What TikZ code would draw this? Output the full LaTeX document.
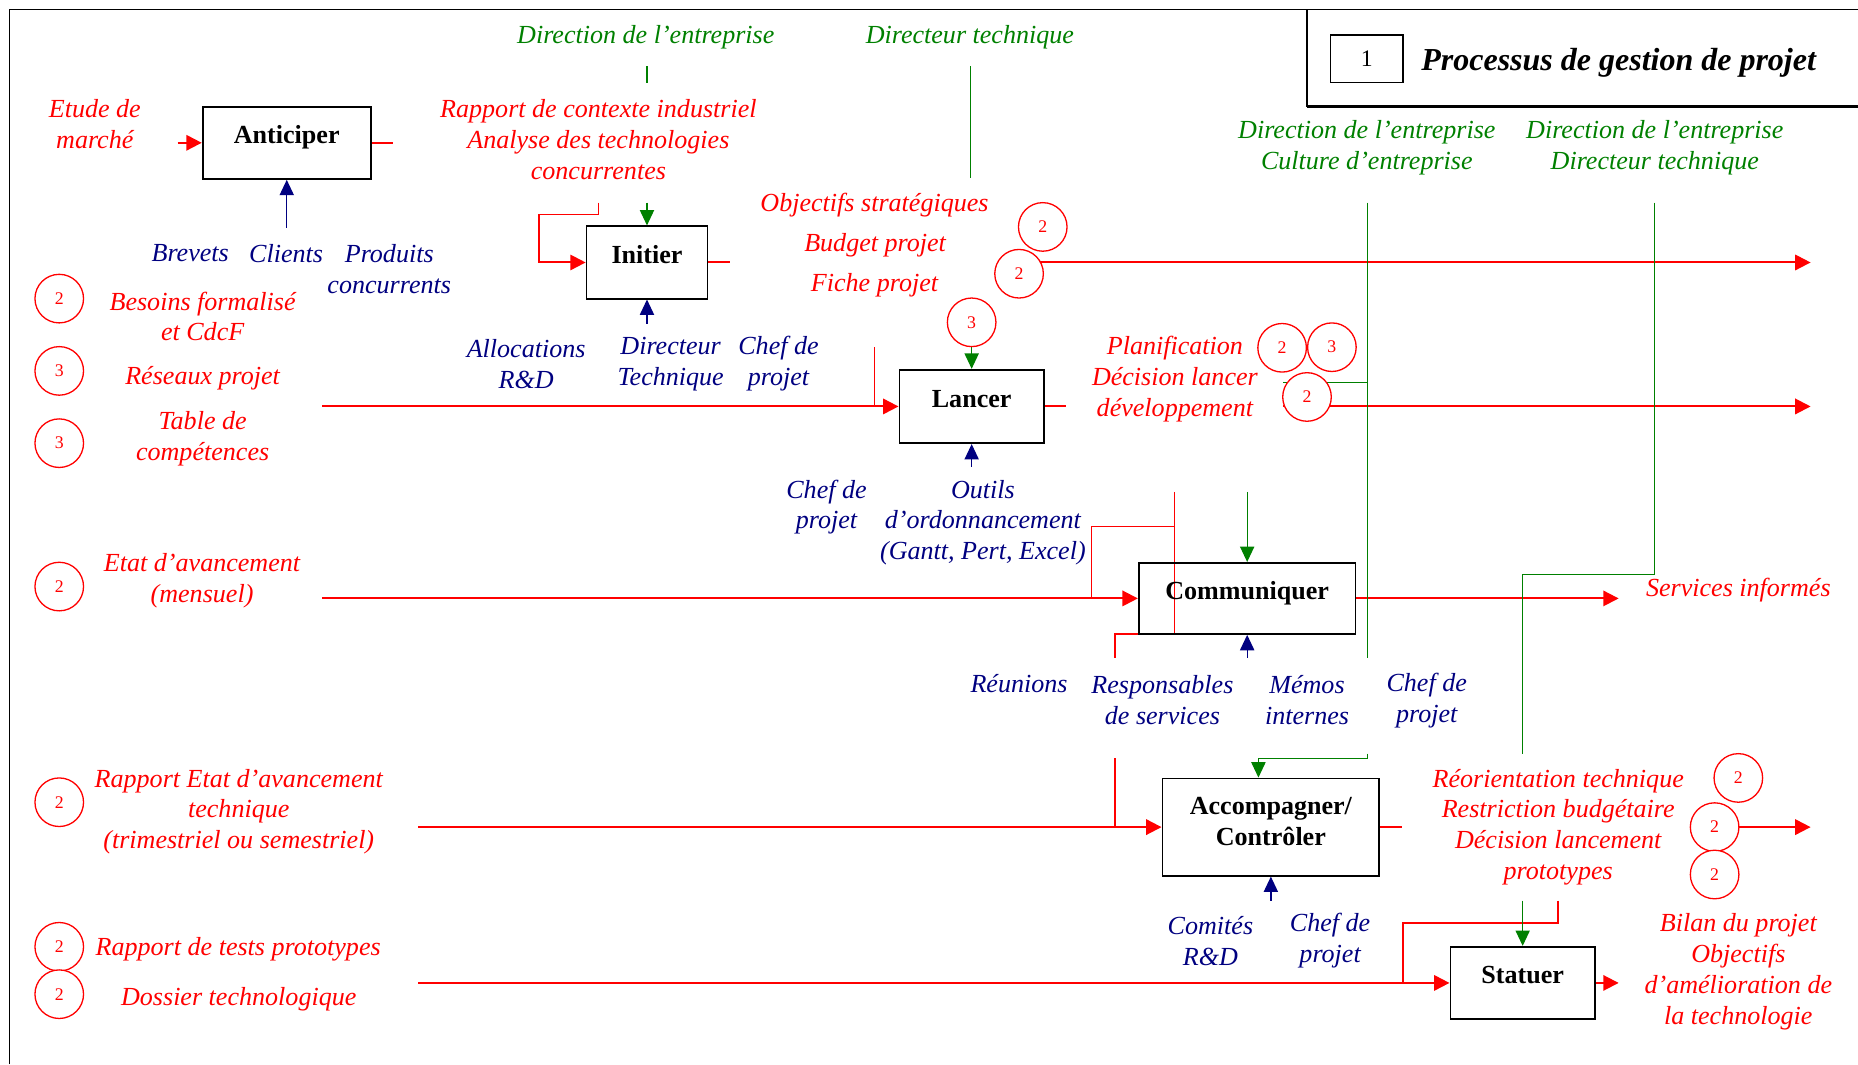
\documentclass[tikz,border=0pt]{standalone}
\usepackage{fontspec}
\setmainfont{Liberation Serif}
\usetikzlibrary{arrows.meta,backgrounds}
\definecolor{flowred}{RGB}{255,0,0}
\definecolor{ctrlgreen}{RGB}{0,128,0}
\definecolor{mechblue}{RGB}{0,0,128}

\begin{document}
\begin{tikzpicture}[x=1pt,y=-1pt,
        every node/.style={inner sep=0pt},
        lbl/.style={font=\fontsize{22}{26}\selectfont\itshape, align=center},
        outtxt/.style={lbl, text=flowred},
        ctltxt/.style={lbl, text=ctrlgreen},
        mectxt/.style={lbl, text=mechblue},
        actbox/.style={draw, line width=1.5pt, font=\fontsize{22}{26}\selectfont\bfseries},
        activity/.style={actbox, text height=16pt, text depth=15pt},
        refnum/.style={circle, draw=flowred, line width=1.1pt, fill=white, minimum size=41pt, text=flowred, font=\fontsize{15}{15}\selectfont},
        flow/.style={draw=flowred, line width=1.7pt},
        flowthin/.style={draw=flowred, line width=1.3pt},
        flowarrow/.style={flow, -{Triangle[length=13pt,width=13pt]}},
        ctrlline/.style={draw=ctrlgreen, line width=1.1pt},
        ctrlarrow/.style={ctrlline, -{Triangle[length=13pt,width=12pt]}},
        mecharrow/.style={draw=mechblue, line width=1.1pt, -{Triangle[length=13pt,width=12pt]}}]

    \useasboundingbox (0,0) rectangle (1568,898);
    \draw[line width=1.2pt] (8,898) -- (8,8) -- (1568,8);
    \draw[line width=1pt] (1103,8) -- (1103,90);
    \draw[line width=2pt] (1103,90) -- (1568,90);

    \node[draw, line width=1.2pt, minimum width=61pt, minimum height=40pt, font=\fontsize{20}{24}\selectfont] (numbox) at (1153.5,49.5) {1};
    \node[font=\fontsize{27}{32}\selectfont\bfseries\itshape] (titre) at (1366,53) {Processus de gestion de projet};

    \node[activity, minimum width=142pt, minimum height=61pt] (anticiper) at (242,120.5) {Anticiper};
    \node[activity, minimum width=102pt, minimum height=61pt] (initier) at (546,221.5) {Initier};
    \node[activity, minimum width=122pt, minimum height=62pt] (lancer) at (820,343) {Lancer};
    \node[activity, minimum width=183pt, minimum height=60pt] (communiquer) at (1052.5,505) {Communiquer};
    \node[actbox, align=center, minimum width=183pt, minimum height=82pt] (accompagner) at (1072.5,698) {Accompagner/\\Contrôler\rule[-10pt]{0pt}{10pt}};
    \node[activity, minimum width=122pt, minimum height=61pt] (statuer) at (1285,829.5) {Statuer};

    \node[ctltxt] (direntr1) at (545,31) {Direction de l’entreprise};
    \node[ctltxt] (dirtech1) at (818.5,31) {Directeur technique};
    \node[ctltxt] (direntr2) at (1153.5,125) {Direction de l’entreprise\\Culture d’entreprise};
    \node[ctltxt] (direntr3) at (1396.5,125) {Direction de l’entreprise\\Directeur technique};

    \node[outtxt] (etude) at (80,105) {Etude de\\marché};
    \node[outtxt] (rapport) at (505,118) {Rapport de contexte industriel\\Analyse des technologies\\concurrentes};
    \node[outtxt] (objectifs) at (738,173) {Objectifs stratégiques};
    \node[outtxt] (budget) at (738.5,207) {Budget projet};
    \node[outtxt] (fiche) at (738,241) {Fiche projet};
    \node[outtxt] (planif) at (991.5,320) {Planification\\Décision lancer\\développement};
    \node[outtxt] (besoins) at (171,267) {Besoins formalisé\\et CdcF};
    \node[outtxt] (reseaux) at (171,319) {Réseaux projet};
    \node[outtxt] (table) at (171,370) {Table de\\compétences};
    \node[outtxt] (etat) at (170.5,490) {Etat d’avancement\\(mensuel)};
    \node[outtxt] (rapportetat) at (201.5,685) {Rapport Etat d’avancement\\technique\\(trimestriel ou semestriel)};
    \node[outtxt] (tests) at (201,801) {Rapport de tests prototypes};
    \node[outtxt] (dossier) at (201.5,843) {Dossier technologique};
    \node[outtxt] (services) at (1467,498) {Services informés};
    \node[outtxt] (reorient) at (1315,698) {Réorientation technique\\Restriction budgétaire\\Décision lancement\\prototypes};
    \node[outtxt] (bilan) at (1467,820) {Bilan du projet\\Objectifs\\d’amélioration de\\la technologie};

    \node[mectxt] (brevets) at (160.5,214) {Brevets};
    \node[mectxt] (clients) at (241.5,214) {Clients};
    \node[mectxt] (produits) at (328.5,227) {Produits\\concurrents};
    \node[mectxt] (alloc) at (444,307) {Allocations\\R\&D};
    \node[mectxt] (dirtech2) at (566,307) {Directeur\\Technique};
    \node[mectxt] (chef1) at (657,307) {Chef de\\projet};
    \node[mectxt] (chef2) at (697.5,428) {Chef de\\projet};
    \node[mectxt] (outils) at (829.5,441) {Outils\\d’ordonnancement\\(Gantt, Pert, Excel)};
    \node[mectxt] (reunions) at (860,577) {Réunions};
    \node[mectxt] (resp) at (981,591) {Responsables\\de services};
    \node[mectxt] (memos) at (1103,591) {Mémos\\internes};
    \node[mectxt] (chef3) at (1204,591) {Chef de\\projet};
    \node[mectxt] (comites) at (1021.5,794) {Comités\\R\&D};
    \node[mectxt] (chef4) at (1122.5,794) {Chef de\\projet};

    \node[refnum] (r1) at (50,252) {2};
    \node[refnum] (r2) at (50,313) {3};
    \node[refnum] (r3) at (50,374) {3};
    \node[refnum] (r4) at (50,495) {2};
    \node[refnum] (r5) at (50,677) {2};
    \node[refnum] (r6) at (50,799) {2};
    \node[refnum] (r7) at (50,839) {2};
    \node[refnum] (r8) at (880,191.5) {2};
    \node[refnum] (r9) at (860,231) {2};
    \node[refnum] (r10) at (820,272) {3};
    \node[refnum] (r11) at (1082,293.5) {2};
    \node[refnum] (r12) at (1124,293) {3};
    \node[refnum] (r13) at (1103,335) {2};
    \node[refnum] (r14) at (1467,656.5) {2};
    \node[refnum] (r15) at (1447,698) {2};
    \node[refnum] (r16) at (1447,738) {2};

    \coordinate (etude-in) at (150,120.5);
    \coordinate (anticiper-out) at (332,120.5);
    \coordinate (rapport-stub) at (505,171);
    \coordinate (rapport-bend) at (455,181);
    \coordinate (initier-out) at (616,221.5);
    \coordinate (fiche-out) at (1528,221.5);
    \coordinate (lancer-in) at (272,343);
    \coordinate (chef-link) at (738,293);
    \coordinate (lancer-out) at (900,343);
    \coordinate (decision-start) at (1083,343);
    \coordinate (decision-out) at (1528,343);
    \coordinate (comm-in) at (272,505);
    \coordinate (reunion-top) at (991,415);
    \coordinate (reunion-bend) at (941,535);
    \coordinate (reunion-end) at (941,555);
    \coordinate (outils-bend) at (921,444.5);
    \coordinate (reunion-low) at (941,640);
    \coordinate (services-out) at (1366,505);
    \coordinate (acc-in) at (353,698);
    \coordinate (acc-out) at (1183,698);
    \coordinate (reorient-out) at (1528,698);
    \coordinate (statuer-in) at (353,829.5);
    \coordinate (proto-top) at (1315,760);
    \coordinate (proto-bend) at (1184,779);
    \coordinate (bilan-out) at (1366,829.5);

    \coordinate (init-tick-a) at (546,56);
    \coordinate (init-tick-b) at (546,70);
    \coordinate (init-ctrl) at (546,171);
    \coordinate (tech-a) at (819,56);
    \coordinate (tech-b) at (819,150);
    \coordinate (culture-top) at (1154,171);
    \coordinate (culture-mid) at (1154,555);
    \coordinate (culture-tick) at (1083,323);
    \coordinate (culture-low) at (1154,636);
    \coordinate (culture-bend) at (1062,640);
    \coordinate (comm-ctrl) at (1052.5,415);
    \coordinate (techdir-top) at (1396,171);
    \coordinate (techdir-bend) at (1285,485);
    \coordinate (techdir-end) at (1285,636);
    \coordinate (statuer-ctrl) at (1285,760);

    \coordinate (anticiper-mech) at (242,192);
    \coordinate (initier-mech) at (546,273);
    \coordinate (lancer-mech) at (820,394);
    \coordinate (comm-mech) at (1052.5,555);
    \coordinate (acc-mech) at (1072.5,760);

    \begin{scope}[on background layer]
        \draw[flowarrow] (etude-in) -- (anticiper.west);
        \draw[flow] (anticiper.east) -- (anticiper-out);
        \draw[flowthin] (rapport-stub) |- (rapport-bend);
        \draw[flowarrow] (rapport-bend) |- (initier.west);
        \draw[flow] (initier.east) -- (initier-out);
        \draw[flowarrow] (r9 |- fiche-out) -- (fiche-out);
        \draw[flowarrow] (lancer-in) -- (lancer.west);
        \draw[draw=flowred, line width=0.8pt] (chef-link) -- (chef-link |- lancer.west);
        \draw[flow] (lancer.east) -- (lancer-out);
        \draw[flowarrow] (decision-start) -- (decision-out);
        \draw[flowarrow] (comm-in) -- (communiquer.west);
        \draw[flowthin] (outils-bend |- communiquer.west) -- (outils-bend) -- (outils-bend -| reunion-top);
        \draw[flowthin] (reunion-top) -- (reunion-top |- reunion-bend) -- (reunion-bend) -- (reunion-end);
        \draw[flowthin] (reunion-low) -- (reunion-low |- accompagner.west);
        \draw[flowarrow] (communiquer.east) -- (services-out);
        \draw[flowarrow] (acc-in) -- (accompagner.west);
        \draw[flow] (accompagner.east) -- (acc-out);
        \draw[flowarrow] (r15.center) -- (reorient-out);
        \draw[flowarrow] (statuer-in) -- (statuer.west);
        \draw[flowthin] (proto-top) |- (proto-bend) -- (proto-bend |- statuer.west);
        \draw[flowarrow] (statuer.east) -- (bilan-out);

        \draw[ctrlline] (init-tick-a) -- (init-tick-b);
        \draw[ctrlarrow] (init-ctrl) -- (initier.north);
        \draw[ctrlline] (tech-a) -- (tech-b);
        \draw[ctrlarrow] (r10) -- (lancer.north);
        \draw[ctrlline] (culture-top) -- (culture-mid);
        \draw[ctrlline] (culture-tick) -- (culture-tick -| culture-top);
        \draw[ctrlarrow] (culture-low) |- (culture-bend) -- (culture-bend |- accompagner.north);
        \draw[ctrlarrow] (comm-ctrl) -- (communiquer.north);
        \draw[ctrlline] (techdir-top) |- (techdir-bend) -- (techdir-end);
        \draw[ctrlarrow] (statuer-ctrl) -- (statuer.north);

        \draw[mecharrow] (anticiper-mech) -- (anticiper.south);
        \draw[mecharrow] (initier-mech) -- (initier.south);
        \draw[mecharrow] (lancer-mech) -- (lancer.south);
        \draw[mecharrow] (comm-mech) -- (communiquer.south);
        \draw[mecharrow] (acc-mech) -- (accompagner.south);
    \end{scope}
\end{tikzpicture}
\end{document}
